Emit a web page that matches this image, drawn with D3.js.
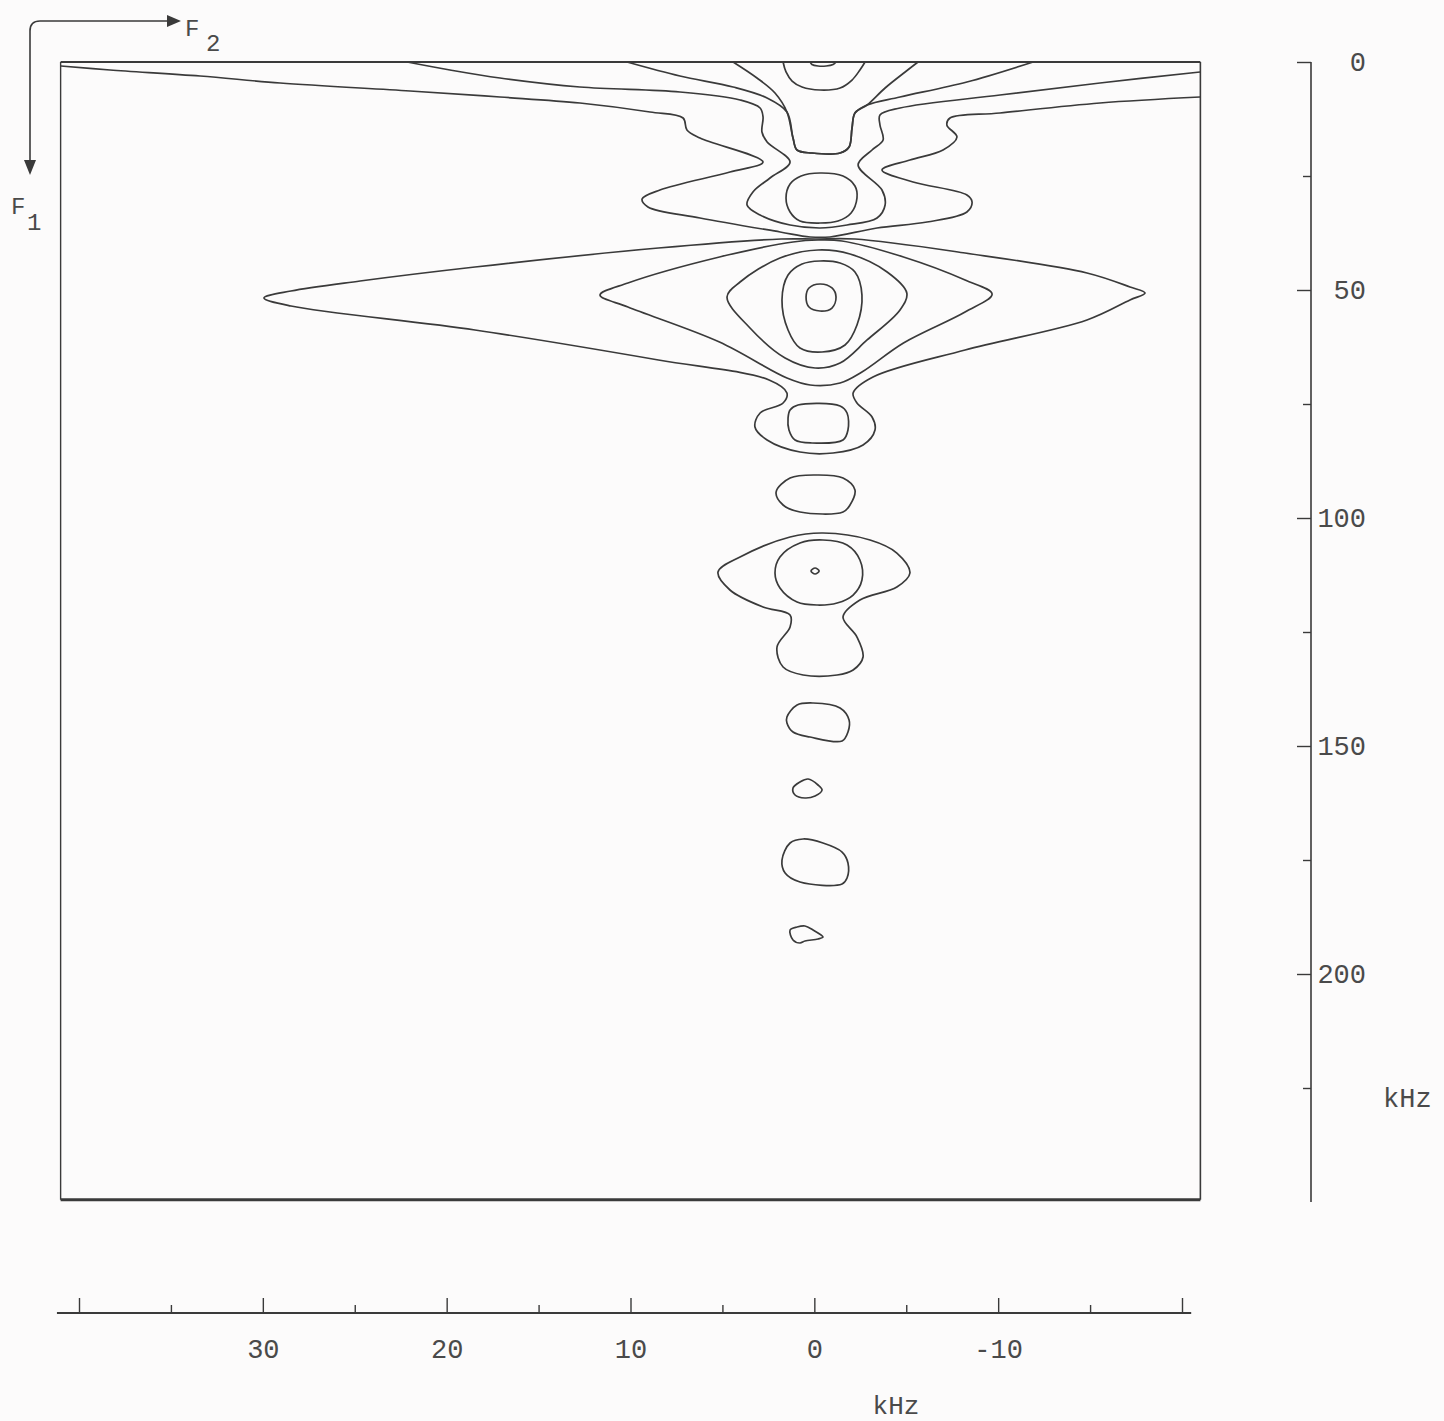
<!DOCTYPE html>
<html><head><meta charset="utf-8">
<script src="https://cdn.jsdelivr.net/npm/d3@7"></script>
<style>body{margin:0;background:#fcfbfb;} svg{display:block}</style>
</head><body><svg id="c" width="1444" height="1421"></svg>
<script>
// ---- axis data ----
const f2Ticks = [40,35,30,25,20,15,10,5,0,-5,-10,-15,-20];
const f2Labels = [30,20,10,0,-10];
const f1Ticks = [0,25,50,75,100,125,150,175,200,225];
const f1Labels = [0,50,100,150,200];
const f2Frame = [41,-21];
const f1Frame = [0,249.5];
const f2AxisSpan = [41.2,-20.5];
const f1AxisSpan = [0,250];

// ---- contour data: [F2 kHz, F1 kHz] ----
const capTop = [[0.23,0],[0.13,0.55],[-0.20,0.88],[-0.64,0.88],[-1.02,0.55],[-1.18,0]];
const uInner = [[1.70,0],[1.54,2.19],[1.21,4.17],[0.67,5.48],[-0.31,6.14],[-1.40,5.70],[-2.05,3.95],[-2.48,1.75],[-2.76,0]];
const uMiddle = [[4.42,0],[3.12,3.51],[2.14,6.80],[1.49,10.96],[1.16,16.67],[0.94,19.30],[0.13,19.96],[-1.40,19.96],[-1.89,18.64],[-2.05,14.47],[-2.21,11.18],[-2.87,9.43],[-3.85,5.70],[-4.94,2.19],[-5.64,0]];
const uOuter = [[10.19,0],[7.31,3.07],[4.42,5.48],[2.57,7.89],[1.49,10.96],[1.16,16.67],[0.94,19.30],[0.13,19.96],[-1.40,19.96],[-1.89,18.64],[-2.05,14.47],[-2.21,11.18],[-2.87,9.43],[-4.66,7.68],[-8.30,4.39],[-11.90,0]];
const topRing = [[-0.31,24.34],[-1.56,25.0],[-2.21,27.19],[-2.32,29.82],[-2.00,33.11],[-1.29,34.87],[-0.31,35.31],[0.78,34.87],[1.32,32.89],[1.54,29.82],[1.32,26.75],[0.72,25.0]];
const waistContour = [[22.15,0],[19.82,1.75],[17.10,3.51],[12.75,5.48],[7.31,6.58],[4.04,8.33],[2.95,10.09],[2.79,12.06],[2.85,15.35],[2.57,17.54],[1.32,21.93],[2.41,25.44],[3.34,28.51],[3.66,31.36],[2.95,33.55],[1.32,35.75],[-0.31,36.40],[-1.78,35.75],[-3.41,34.21],[-3.85,31.36],[-3.68,28.07],[-2.38,22.59],[-3.14,19.30],[-3.74,17.11],[-3.57,13.82],[-3.57,11.62],[-4.66,10.09],[-10.10,7.24],[-15.54,4.61],[-20.98,2.19]];
const wingContour = [[40.98,0.88],[38.31,1.75],[33.41,3.07],[29.06,4.61],[21.99,6.36],[17.10,7.68],[12.75,8.99],[8.94,10.96],[7.14,12.28],[6.93,14.91],[6.22,16.67],[2.79,21.93],[4.59,24.12],[8.40,28.07],[9.37,30.04],[9.05,31.80],[6.22,34.21],[1.86,37.28],[0.23,38.38],[-0.85,38.38],[-3.41,36.40],[-6.13,35.09],[-8.30,32.89],[-8.58,30.70],[-8.30,29.17],[-5.37,26.32],[-3.68,23.68],[-5.20,21.49],[-7.00,19.30],[-7.76,16.45],[-7.21,13.82],[-7.38,12.28],[-10.10,11.18],[-15.54,8.99],[-20.98,7.68]];
const lobe1 = [[-0.04,38.82],[1.81,38.82],[8.48,40.79],[18.46,44.96],[24.71,48.03],[28.47,50.22],[29.94,51.75],[28.47,53.51],[18.46,58.77],[8.48,65.35],[2.46,69.74],[1.49,72.59],[1.70,74.78],[2.95,76.97],[3.23,80.04],[2.57,82.89],[0.78,85.53],[-1.02,85.75],[-2.65,83.99],[-3.30,80.70],[-3.14,77.85],[-2.32,74.78],[-2.11,72.59],[-3.19,69.08],[-8.20,63.16],[-14.83,56.58],[-17.17,52.19],[-17.99,50.66],[-17.17,49.34],[-14.83,46.27],[-8.20,41.89],[-2.21,38.82]];
const lobe2 = [[11.66,51.10],[10.14,48.46],[5.16,42.76],[1.16,39.47],[-0.20,39.04],[-1.50,39.25],[-4.85,42.76],[-8.20,47.81],[-9.67,50.88],[-8.20,54.82],[-4.85,61.62],[-2.59,67.98],[-1.40,70.39],[0.23,70.83],[1.49,69.30],[5.16,61.40],[10.14,53.73]];
const lobe3 = [[4.75,51.54],[4.04,48.25],[1.87,42.98],[-0.20,41.23],[-1.94,42.11],[-3.96,46.05],[-5.03,50.66],[-4.66,54.39],[-2.87,60.96],[-1.40,66.01],[-0.04,67.11],[1.59,64.91],[3.50,58.33]];
const lobe4 = [[-0.31,43.64],[-1.40,44.08],[-2.21,46.05],[-2.59,51.10],[-2.32,57.68],[-1.67,62.06],[-0.42,63.60],[0.78,62.72],[1.43,58.77],[1.76,52.19],[1.43,46.71],[0.67,44.30]];
const lobe5 = [[-0.31,48.68],[-0.96,49.56],[-1.18,51.54],[-0.96,53.95],[-0.31,54.61],[0.29,53.73],[0.45,51.54],[0.29,49.56]];
const lowerRect = [[1.32,76.32],[0.89,75.22],[-1.40,75.44],[-1.78,76.97],[-1.83,80.70],[-1.56,82.89],[0.13,83.55],[1.05,82.89],[1.38,80.70],[1.43,78.07]];
const ovalA = [[1.32,91.23],[-0.15,90.57],[-1.56,91.23],[-2.21,93.86],[-1.94,97.15],[-1.56,98.68],[0.78,98.68],[1.70,97.15],[2.08,94.30]];
const ringOuter = [[5.24,111.84],[4.04,108.55],[1.32,104.17],[-0.47,103.29],[-3.03,104.82],[-4.49,107.68],[-5.20,112.06],[-4.49,115.13],[-2.48,117.98],[-1.56,121.71],[-2.32,126.10],[-2.65,130.48],[-2.11,133.33],[-1.24,134.43],[0.61,134.43],[1.70,132.68],[2.03,128.29],[1.32,123.90],[1.32,121.27],[2.79,119.52],[4.59,115.79]];
const ringInner = [[2.14,112.06],[1.87,108.55],[0.78,105.48],[-0.47,104.82],[-1.78,105.92],[-2.48,109.21],[-2.59,113.60],[-2.11,116.89],[-1.24,118.64],[-0.15,119.08],[0.94,118.42],[1.87,115.35]];
const ringDot = [[0.18,111.62],[-0.04,110.96],[-0.26,111.62],[-0.04,112.28]];
const ovalB = [[1.49,143.64],[0.94,141.01],[0.07,140.57],[-1.40,141.67],[-1.89,144.30],[-1.83,146.93],[-1.51,148.90],[0.23,148.03],[1.16,146.93],[1.49,144.96]];
const ovalC = [[1.16,159.21],[0.78,157.89],[0.34,157.24],[-0.20,158.55],[-0.42,159.65],[-0.04,160.96],[0.51,161.40],[1.05,160.75]];
const ovalD = [[1.76,175.0],[1.32,171.27],[0.61,170.39],[-0.47,171.27],[-1.51,173.25],[-1.83,175.66],[-1.78,178.95],[-1.51,180.26],[0.78,179.82],[1.59,177.85]];
const ovalE = [[1.32,190.35],[0.94,189.69],[0.51,189.47],[0.07,190.35],[-0.47,191.89],[-0.20,192.32],[0.51,192.76],[0.78,193.20],[1.16,192.54]];

const openContours = [capTop, uInner, uMiddle, uOuter, waistContour, wingContour];
const closedContours = [topRing, lobe1, lobe2, lobe3, lobe4, lobe5, lowerRect, ovalA, ringOuter, ringInner, ringDot, ovalB, ovalC, ovalD, ovalE];

// ---- drawing ----
const svg = d3.select('#c');
const ink = '#3a3a3a';
const txt = '#4a4a4a';
const font = "'Liberation Mono', 'DejaVu Sans Mono', monospace";

const x = d3.scaleLinear().domain([40,-20]).range([79,1182]);
const y = d3.scaleLinear().domain([0,250]).range([62,1202]);

// frame
const fx0 = x(f2Frame[0]), fx1 = x(f2Frame[1]), fy0 = y(f1Frame[0]), fy1 = y(f1Frame[1]);
svg.append('line').attr('x1',fx0).attr('x2',fx1).attr('y1',fy0).attr('y2',fy0).attr('stroke',ink).attr('stroke-width',2.2);
svg.append('line').attr('x1',fx0).attr('x2',fx1).attr('y1',fy1).attr('y2',fy1).attr('stroke',ink).attr('stroke-width',3);
svg.append('line').attr('x1',fx0).attr('x2',fx0).attr('y1',fy0).attr('y2',fy1).attr('stroke',ink).attr('stroke-width',1.4);
svg.append('line').attr('x1',fx1).attr('x2',fx1).attr('y1',fy0).attr('y2',fy1).attr('stroke',ink).attr('stroke-width',1.6);

// contours
const lineOpen = d3.line().x(d=>x(d[0])).y(d=>y(d[1])).curve(d3.curveCatmullRom.alpha(0.5));
const lineClosed = d3.line().x(d=>x(d[0])).y(d=>y(d[1])).curve(d3.curveCatmullRomClosed.alpha(0.5));
const g = svg.append('g').attr('fill','none').attr('stroke',ink).attr('stroke-width',1.7).attr('stroke-linejoin','round');
g.selectAll('path.o').data(openContours).join('path').attr('class','o').attr('d',lineOpen);
g.selectAll('path.c').data(closedContours).join('path').attr('class','c').attr('d',lineClosed);

// bottom axis
const bx = svg.append('g').attr('transform','translate(0,1313)');
bx.call(d3.axisBottom(x).tickValues(f2Ticks).tickSizeInner(-15).tickSizeOuter(0)
  .tickFormat(d => f2Labels.includes(d) ? String(d) : ''));
bx.select('.domain').remove();
bx.append('line').attr('x1',x(f2AxisSpan[0])).attr('x2',x(f2AxisSpan[1])).attr('stroke',ink).attr('stroke-width',2);
bx.selectAll('.tick line').attr('stroke',ink).attr('stroke-width',1.4)
  .attr('y2', d => (d % 10 === 0) ? -15 : -8);
bx.selectAll('.tick text').attr('y',26).attr('dy','0.71em').attr('fill',txt)
  .style('font-family',font).style('font-size','27px');
svg.append('text').attr('x',896).attr('y',1414).attr('text-anchor','middle').attr('fill',txt)
  .style('font-family',font).style('font-size','26px').text('kHz');

// right axis
const ry = svg.append('g').attr('transform','translate(1311,0)');
ry.call(d3.axisRight(y).tickValues(f1Ticks).tickSizeInner(-14).tickSizeOuter(0)
  .tickFormat(d => f1Labels.includes(d) ? String(d) : ''));
ry.select('.domain').remove();
ry.append('line').attr('y1',y(f1AxisSpan[0])).attr('y2',y(f1AxisSpan[1])).attr('stroke',ink).attr('stroke-width',1.6);
ry.selectAll('.tick line').attr('stroke',ink).attr('stroke-width',1.4)
  .attr('x2', d => (d % 50 === 0) ? -14 : -8);
ry.selectAll('.tick text').attr('x',55).attr('text-anchor','end').attr('fill',txt)
  .style('font-family',font).style('font-size','27px');
svg.append('text').attr('x',1383).attr('y',1098).attr('dy','0.35em').attr('fill',txt)
  .style('font-family',font).style('font-size','27px').text('kHz');

// F1 / F2 direction arrows
svg.append('path').attr('d','M168,21 L40,21 Q30,21 30,31 L30,162').attr('fill','none').attr('stroke',ink).attr('stroke-width',1.6);
svg.append('path').attr('d','M167,15 L181,21 L167,27 Z').attr('fill',ink);
svg.append('path').attr('d','M24,160 L30,175 L36,160 Z').attr('fill',ink);
const lab = svg.append('g').attr('fill',txt).style('font-family',font).style('font-size','24px');
lab.append('text').attr('x',185).attr('y',36).text('F');
lab.append('text').attr('x',206).attr('y',51).text('2');
lab.append('text').attr('x',11).attr('y',214).text('F');
lab.append('text').attr('x',27).attr('y',230).text('1');
</script></body></html>
